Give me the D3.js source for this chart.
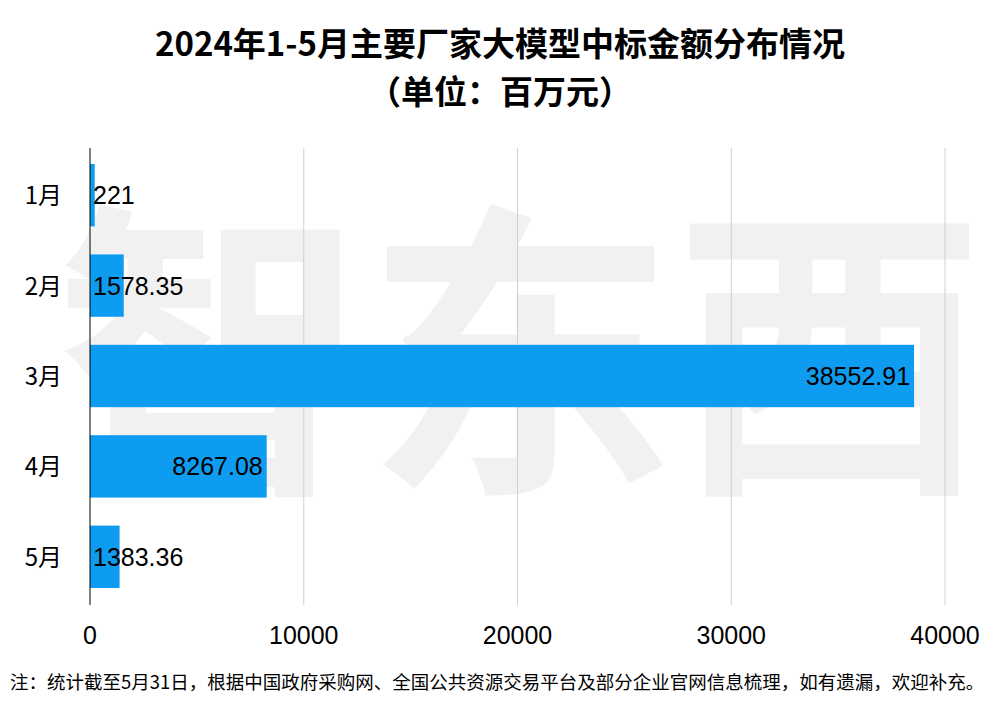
<!DOCTYPE html>
<html><head><meta charset="utf-8">
<script src="https://cdn.jsdelivr.net/npm/d3@7"></script>
<style>body{margin:0;background:#fff}svg{display:block;font-family:"Noto Sans CJK SC","Noto Sans",sans-serif}</style>
</head><body><svg id="c" width="1000" height="712"></svg>
<script>
const months = ["1月","2月","3月","4月","5月"];
const values = [221, 1578.35, 38552.91, 8267.08, 1383.36];
const ticks = [0, 10000, 20000, 30000, 40000];
const svg = d3.select("#c");
// watermark
svg.append("text").attr("x",520).attr("y",470).attr("text-anchor","middle")
  .attr("font-size",310).attr("font-weight","bold").attr("fill","#f1f1f1").text("智东西");
svg.append("text").attr("x",500).attr("y",56).attr("text-anchor","middle").attr("font-size",33).attr("font-weight","bold").text("2024年1-5月主要厂家大模型中标金额分布情况");
svg.append("text").attr("x",500).attr("y",104).attr("text-anchor","middle").attr("font-size",33).attr("font-weight","bold").text("（单位：百万元）");
const x = d3.scaleLinear().domain([0,40000]).range([90,945]);
const y = d3.scaleBand().domain(months).range([150,602]).paddingInner(0.31).paddingOuter(0.155);
svg.append("g").selectAll("line").data(ticks.slice(1)).join("line")
  .attr("x1",d=>x(d)).attr("x2",d=>x(d)).attr("y1",148).attr("y2",605).attr("stroke","#d0d0d0");
svg.append("g").selectAll("rect").data(values).join("rect")
  .attr("x",x(0)).attr("y",(d,i)=>y(months[i])).attr("width",d=>x(d)-x(0)).attr("height",y.bandwidth()).attr("fill","#0e9cf0");
svg.append("line").attr("x1",90).attr("x2",90).attr("y1",148).attr("y2",605).attr("stroke","#000");
svg.append("g").selectAll("text").data(values).join("text")
  .attr("x",d=>x(d)-x(0)>130 ? x(d)-4 : x(0)+3)
  .attr("text-anchor",d=>x(d)-x(0)>130?"end":"start")
  .attr("y",(d,i)=>y(months[i])+y.bandwidth()/2+9).attr("font-size",25).attr("font-family","Liberation Sans, Arial, sans-serif").text(d=>d);
svg.append("g").selectAll("text").data(months).join("text")
  .attr("x",62).attr("text-anchor","end").attr("y",d=>y(d)+y.bandwidth()/2+9).attr("font-size",24).text(d=>d);
svg.append("g").selectAll("text").data(ticks).join("text")
  .attr("x",d=>x(d)).attr("y",644).attr("text-anchor","middle").attr("font-size",25).attr("font-family","Liberation Sans, Arial, sans-serif").text(d=>d);
svg.append("text").attr("x",10).attr("y",689).attr("font-size",18.5).text("注：统计截至5月31日，根据中国政府采购网、全国公共资源交易平台及部分企业官网信息梳理，如有遗漏，欢迎补充。");
</script></body></html>
